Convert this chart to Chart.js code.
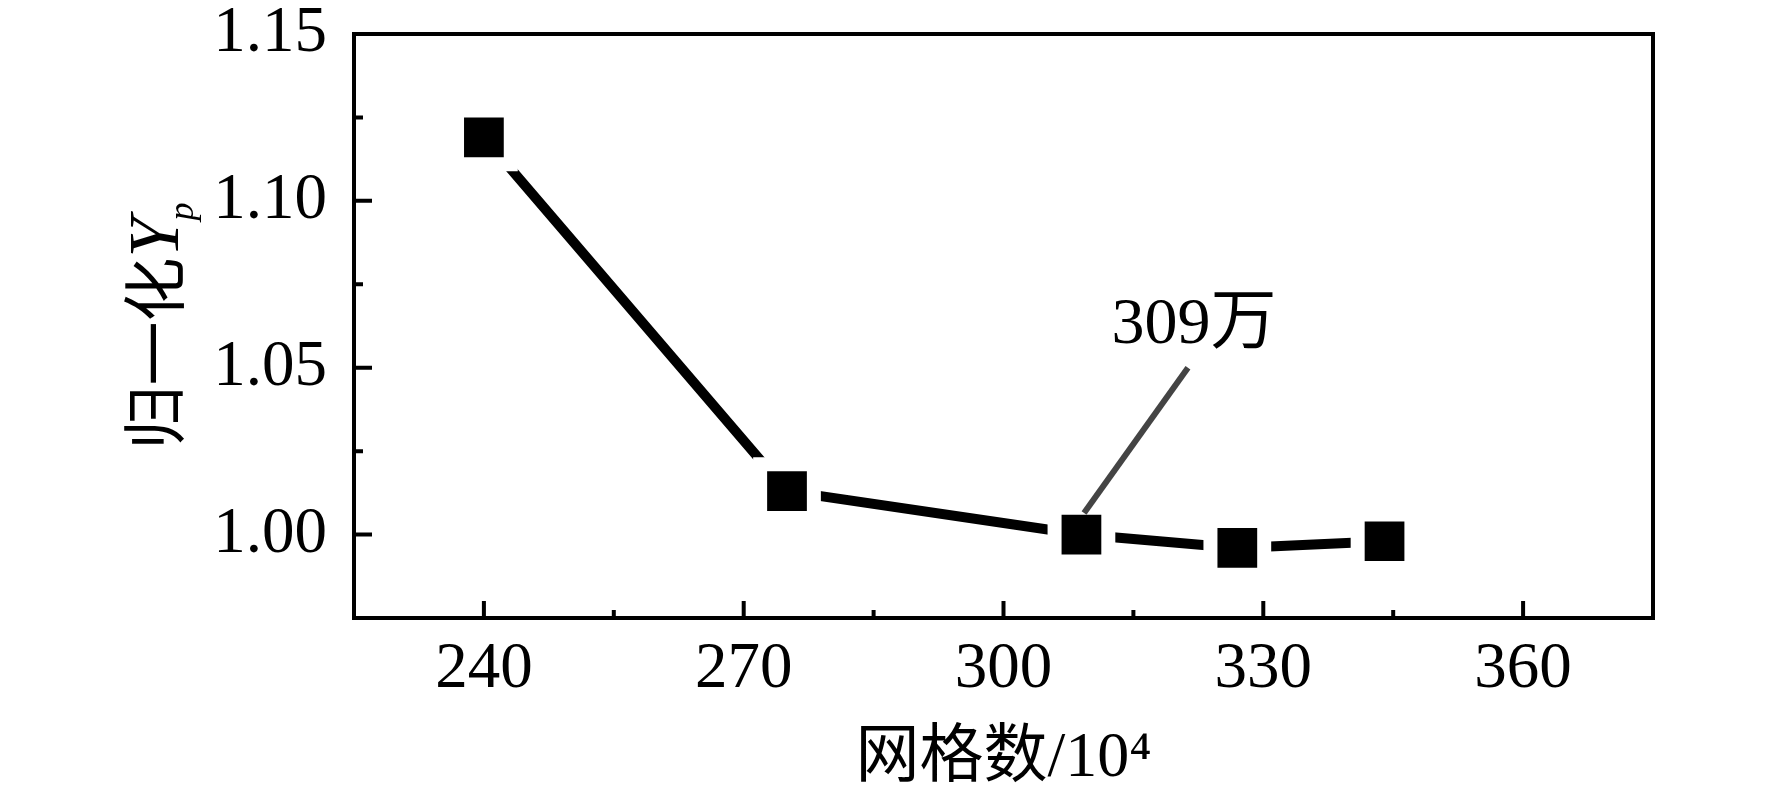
<!DOCTYPE html>
<html>
<head>
<meta charset="utf-8">
<script src="https://cdn.jsdelivr.net/npm/chart.js@4/dist/chart.umd.min.js"></script>
<style>
  html, body { margin: 0; padding: 0; background: #fff; }
  #wrap { width: 1772px; height: 803px; position: relative; }
</style>
</head>
<body>
<div id="wrap"><canvas id="myChart"></canvas></div>
<script>
// data
const meshCount = [240, 275, 309, 327, 344];
const normYp = [1.119, 1.013, 1.000, 0.996, 0.998];
const xTickLabels = ['240', '270', '300', '330', '360'];
const yTickLabels = ['1.00', '1.05', '1.10', '1.15'];
const calloutText = '309万';
const calloutLine = [[309.3, 1.0065], [321.3, 1.050]];
const calloutLabelAt = [322, 1.0575];

const serif = "'Liberation Serif', 'Noto Sans CJK SC', serif";

// frame + inward ticks (major long, minor short)
const framePlugin = {
  id: 'frame',
  afterDraw(chart) {
    const { ctx, chartArea: a, scales } = chart;
    ctx.save();
    ctx.strokeStyle = '#000';
    ctx.lineWidth = 4;
    ctx.beginPath();
    scales.x.ticks.forEach(t => {
      if (t.value <= scales.x.min || t.value >= scales.x.max) return;
      const px = scales.x.getPixelForValue(t.value);
      const len = xTickLabels.includes(String(t.value)) ? 17 : 8;
      ctx.moveTo(px, a.bottom);
      ctx.lineTo(px, a.bottom - len);
    });
    scales.y.ticks.forEach(t => {
      if (t.value <= scales.y.min || t.value >= scales.y.max) return;
      const py = scales.y.getPixelForValue(t.value);
      const len = yTickLabels.includes(t.value.toFixed(2)) ? 18 : 9;
      ctx.moveTo(a.left, py);
      ctx.lineTo(a.left + len, py);
    });
    ctx.stroke();
    ctx.strokeRect(a.left, a.top, a.right - a.left, a.bottom - a.top);
    ctx.restore();
  }
};

// leader line and "309万" label
const calloutPlugin = {
  id: 'callout',
  afterDatasetsDraw(chart) {
    const { ctx, scales } = chart;
    const x = scales.x, y = scales.y;
    ctx.save();
    ctx.strokeStyle = '#444';
    ctx.lineWidth = 6;
    ctx.beginPath();
    ctx.moveTo(x.getPixelForValue(calloutLine[0][0]), y.getPixelForValue(calloutLine[0][1]));
    ctx.lineTo(x.getPixelForValue(calloutLine[1][0]), y.getPixelForValue(calloutLine[1][1]));
    ctx.stroke();
    ctx.fillStyle = '#000';
    ctx.font = '66px ' + serif;
    ctx.textAlign = 'center';
    ctx.textBaseline = 'alphabetic';
    ctx.fillText(calloutText, x.getPixelForValue(calloutLabelAt[0]), y.getPixelForValue(calloutLabelAt[1]));
    ctx.restore();
  }
};

// rotated y title with italic subscript
const yTitlePlugin = {
  id: 'yTitle',
  afterDraw(chart) {
    const { ctx, chartArea: a } = chart;
    const parts = [
      { text: '归一化', font: "64px 'Noto Sans CJK SC', sans-serif", dy: 0, kern: 0 },
      { text: 'Y', font: "italic 72px 'Liberation Serif', serif", dy: 0, kern: 0 },
      { text: 'p', font: "italic 36px 'Liberation Serif', serif", dy: 15, kern: -3 }
    ];
    let total = 0;
    parts.forEach(p => { ctx.font = p.font; p.w = ctx.measureText(p.text).width; total += p.w + p.kern; });
    ctx.save();
    ctx.translate(178, (a.top + a.bottom) / 2);
    ctx.rotate(-Math.PI / 2);
    ctx.fillStyle = '#000';
    ctx.textBaseline = 'alphabetic';
    ctx.textAlign = 'left';
    let cx = -total / 2;
    parts.forEach(p => {
      ctx.font = p.font;
      cx += p.kern;
      ctx.fillText(p.text, cx, p.dy);
      cx += p.w;
    });
    ctx.restore();
  }
};

const ctx = document.getElementById('myChart').getContext('2d');
const chart = new Chart(ctx, {
  type: 'scatter',
  data: {
    datasets: [{
      data: meshCount.map((m, i) => ({ x: m, y: normYp[i] })),
      showLine: true,
      borderColor: '#000',
      borderWidth: 10,
      borderCapStyle: 'round',
      tension: 0,
      pointStyle: 'rect',
      pointRadius: 38,
      pointBackgroundColor: '#000',
      pointBorderColor: '#fff',
      pointBorderWidth: 14,
      clip: false
    }]
  },
  options: {
    responsive: true,
    maintainAspectRatio: false,
    animation: false,
    events: [],
    layout: { autoPadding: false, padding: { left: 0, right: 119, top: 34, bottom: 0 } },
    plugins: { legend: { display: false }, tooltip: { enabled: false } },
    scales: {
      x: {
        type: 'linear',
        min: 225,
        max: 375,
        afterFit: s => { s.height = 185; s.paddingLeft = 0; s.paddingRight = 0; },
        grid: { display: false, drawTicks: false },
        border: { display: false },
        ticks: {
          stepSize: 15,
          autoSkip: false,
          maxRotation: 0,
          padding: 13,
          color: '#000',
          font: { family: serif, size: 65 },
          callback: v => xTickLabels.includes(String(v)) ? String(v) : ''
        },
        title: {
          display: true,
          text: '网格数/10⁴',
          color: '#000',
          font: { family: serif, size: 64 },
          padding: { top: 0, bottom: 5 }
        }
      },
      y: {
        min: 0.975,
        max: 1.15,
        afterFit: s => { s.width = 354; s.paddingTop = 0; s.paddingBottom = 0; },
        grid: { display: false, drawTicks: false },
        border: { display: false },
        ticks: {
          stepSize: 0.025,
          autoSkip: false,
          padding: 27,
          color: '#000',
          font: { family: serif, size: 65 },
          callback: v => yTickLabels.includes(v.toFixed(2)) ? v.toFixed(2) : ''
        }
      }
    }
  },
  plugins: [framePlugin, calloutPlugin, yTitlePlugin]
});
</script>
</body>
</html>
